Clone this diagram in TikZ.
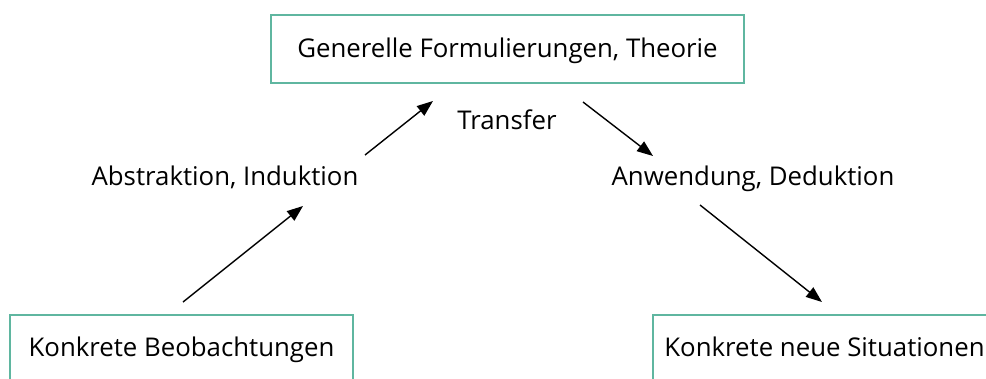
\documentclass[tikz,border=0pt]{standalone}
\usepackage{fontspec}
\setmainfont{Open Sans}
\usetikzlibrary{arrows.meta}
\definecolor{boxteal}{RGB}{95,182,160}
\begin{document}
\begin{tikzpicture}[x=1pt,y=-1pt,
  every node/.style={font=\fontsize{25.8}{30}\selectfont, text=black},
  tbox/.style={draw=boxteal, line width=1.8pt, inner sep=0pt, minimum height=68pt, text height=19pt, text depth=6pt},
  lbl/.style={anchor=base},
  arr/.style={line width=1.4pt, -{Triangle[length=16pt,width=12pt]}}]
\useasboundingbox (0,0) rectangle (986,378);
\fill[white] (0,0) rectangle (986,378);
\node[tbox, minimum width=473pt] (top) at (507.5,49) {\raisebox{-1.5pt}{Generelle Formulierungen, Theorie}};
\node[tbox, minimum width=343pt, minimum height=70pt] (bl) at (181.5,350) {Konkrete Beobachtungen};
\node[tbox, minimum width=343pt, minimum height=70pt] (br) at (824.5,350) {Konkrete neue Situationen};
\node[lbl] (abs) at (225,185) {Abstraktion, Induktion};
\node[lbl] (tra) at (507,129) {Transfer};
\node[lbl] (anw) at (753,185) {Anwendung, Deduktion};
\coordinate (a1s) at (183,302); \coordinate (a1e) at (303,206);
\coordinate (a2s) at (365,155); \coordinate (a2e) at (433,101);
\coordinate (a3s) at (583,102); \coordinate (a3e) at (653,156);
\coordinate (a4s) at (700,205); \coordinate (a4e) at (822,302);
\draw[arr] (a1s) -- (a1e);
\draw[arr] (a2s) -- (a2e);
\draw[arr] (a3s) -- (a3e);
\draw[arr] (a4s) -- (a4e);
\end{tikzpicture}
\end{document}
